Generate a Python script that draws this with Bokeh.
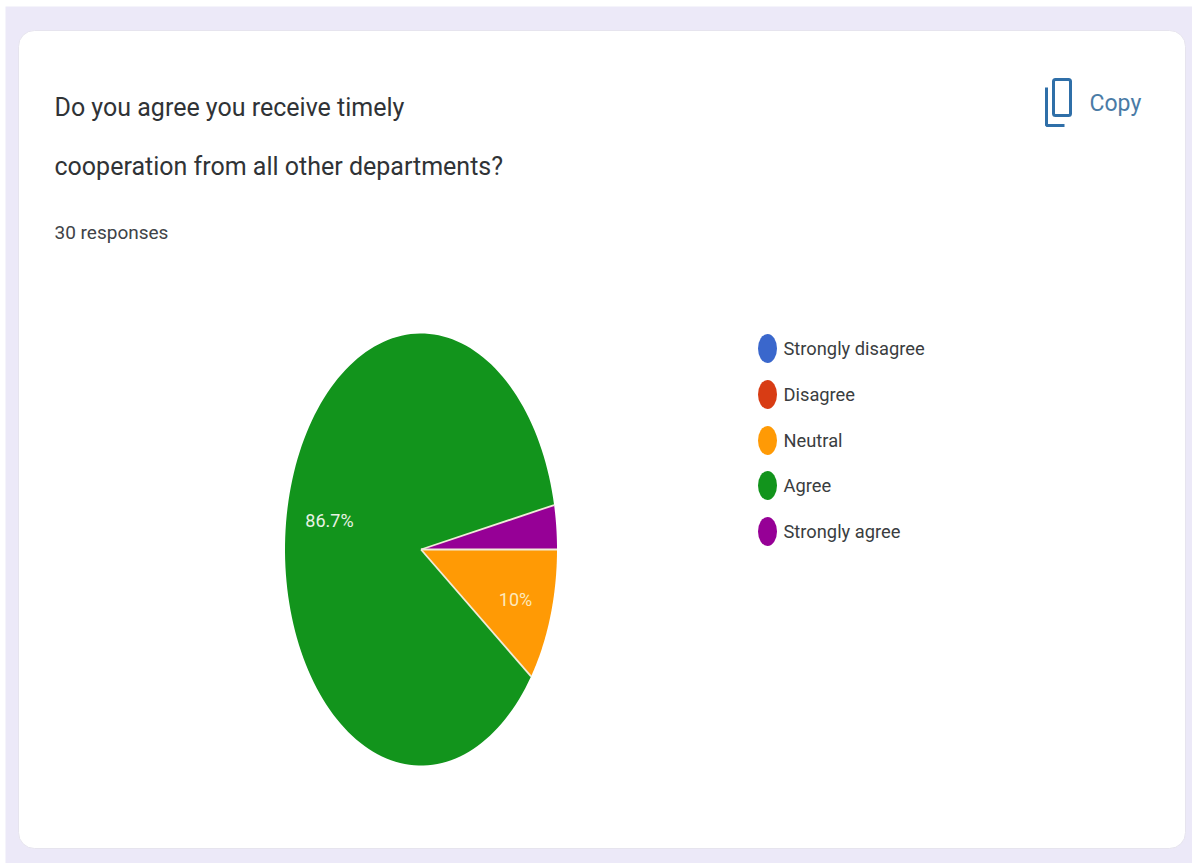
import numpy as np
from bokeh.core.properties import value
from bokeh.embed import file_html
from bokeh.models import ColumnDataSource, Range1d
from bokeh.plotting import figure
from bokeh.resources import INLINE

# Survey results
categories = ["Strongly disagree", "Disagree", "Neutral", "Agree", "Strongly agree"]
percentages = [0.0, 0.0, 10.0, 86.7, 3.3]
slice_labels = ["", "", "10%", "86.7%", ""]
colors = ["#3a67cc", "#d83c14", "#ff9a05", "#12941c", "#960096"]

title_lines = ["Do you agree you receive timely", "cooperation from all other departments?"]
subtitle = "30 responses"

FONT = "Roboto"
W, H = 1192, 863

p = figure(width=W, height=H, x_range=Range1d(0, W), y_range=Range1d(H, 0),
           output_backend="svg", toolbar_location=None, min_border=0,
           outline_line_color=None, background_fill_color="#ffffff")
p.axis.visible = False
p.grid.visible = False

# Page backdrop and rounded card
p.quad(left=5, right=W, top=6, bottom=H, fill_color="#ece9f8", line_color=None)
p.quad(left=18, right=1185, top=30, bottom=848, fill_color="#ffffff",
       line_color="#e6e4ee", line_width=1, border_radius=16)

# Heading block
p.text(x=[54, 54], y=[107, 166], text=title_lines, text_font=value(FONT),
       text_font_size="25px", text_color="#303336", text_baseline="middle")
p.text(x=[54], y=[232], text=[subtitle], text_font=value(FONT),
       text_font_size="19px", text_color="#404347", text_baseline="middle")

# Copy button: front sheet, back sheet edge, caption
icon = "#2f6fa8"
p.quad(left=1053, right=1070, top=79, bottom=115, fill_color=None, line_color=icon,
       line_width=3, border_radius=2)
p.line(x=[1046, 1046, 1064], y=[87, 125, 125], line_color=icon, line_width=3)
p.text(x=[1089], y=[103], text=["Copy"], text_font=value(FONT), text_font_size="23px",
       text_color="#4a7ba6", text_baseline="middle")

# Pie, drawn as an ellipse; slices run clockwise from three o'clock
cx, cy, rx, ry = 420.5, 549, 136, 216
fractions = np.array(percentages) / sum(percentages)
xs, ys, fills, edge_x, edge_y = [], [], [], [], []
start = 0.0
for frac, col in zip(fractions, colors):
    if frac == 0:
        continue
    end = start + 2 * np.pi * frac
    t = np.linspace(start, end, 160)
    xs.append(np.r_[cx, cx + rx * np.cos(t)])
    ys.append(np.r_[cy, cy + ry * np.sin(t)])
    fills.append(col)
    edge_x.append([cx, cx + rx * np.cos(start)])
    edge_y.append([cy, cy + ry * np.sin(start)])
    start = end

p.patches(xs, ys, fill_color=fills, line_color=None)
# Pale separators between neighbouring slices
p.multi_line(edge_x, edge_y, line_color="#f1ecd8", line_width=1.8)
p.text(x=[329, 515], y=[520, 599], text=[slice_labels[3], slice_labels[2]],
       text_font=value(FONT), text_font_size="18px", text_color=["#e8f2e4", "#fde9bd"],
       text_align="center", text_baseline="middle")

# Legend
legend_y = [348, 394, 440, 485, 531]
src = ColumnDataSource(dict(x=[767] * 5, y=legend_y, c=colors, t=categories))
p.ellipse(x="x", y="y", width=19, height=29, fill_color="c", line_color=None, source=src)
p.text(x=783, y="y", text="t", text_font=value(FONT), text_font_size="18.3px",
       text_color="#3a3d40", text_baseline="middle", source=src)

open("out.html", "w").write(file_html(p, INLINE))
